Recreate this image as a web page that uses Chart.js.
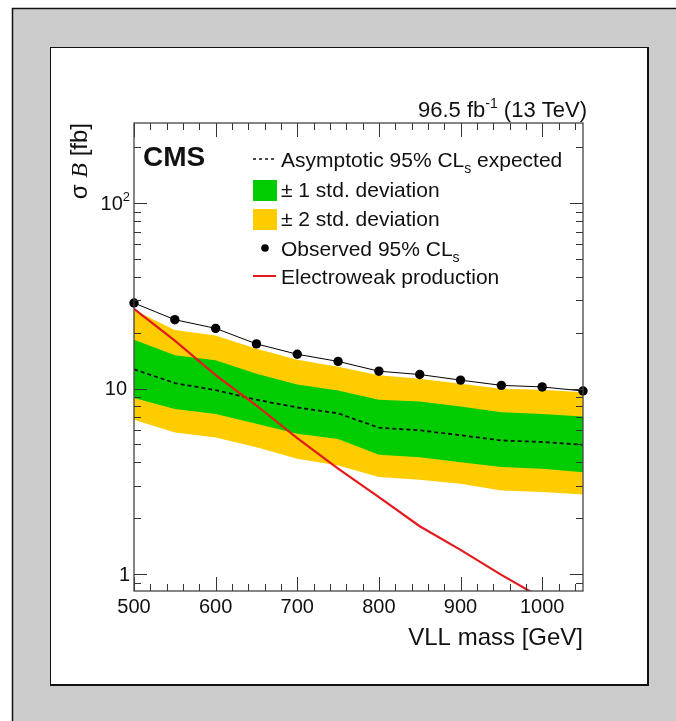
<!DOCTYPE html>
<html>
<head>
<meta charset="utf-8">
<script src="https://cdn.jsdelivr.net/npm/chart.js@4.4.1/dist/chart.umd.min.js"></script>
<style>
    html, body { margin: 0; padding: 0; background: #fff; }
    canvas { display: block; }
</style>
</head>
<body>
<canvas id="limitChart" width="676" height="721"></canvas>
<script>
// ---- data ----

// VLL mass points [GeV]
const masses   = [500, 550, 600, 650, 700, 750, 800, 850, 900, 950, 1000, 1050];
// sigma*B limits [fb]
const observed = [28.9, 23.5, 21.1, 17.4, 15.3, 14.0, 12.4, 11.9, 11.1, 10.4, 10.2, 9.7];
const expected = [12.7, 10.7, 9.8, 8.7, 7.9, 7.35, 6.15, 5.95, 5.6, 5.25, 5.15, 4.97];
const plus1    = [18.3, 15.1, 14.2, 12.0, 10.5, 9.75, 8.7, 8.5, 8.0, 7.45, 7.3, 7.07];
const minus1   = [8.9, 7.75, 7.3, 6.45, 5.7, 5.35, 4.4, 4.26, 4.0, 3.77, 3.69, 3.54];
const plus2    = [26.5, 20.7, 19.3, 16.4, 14.3, 13.1, 11.8, 11.3, 10.6, 9.96, 9.84, 9.55];
const minus2   = [6.78, 5.8, 5.45, 4.82, 4.18, 3.85, 3.33, 3.22, 3.07, 2.82, 2.77, 2.68];
const ewk      = [26.9, 18.1, 11.8, 8.1, 5.4, 3.7, 2.6, 1.81, 1.35, 0.99, 0.74, 0.55];

// axis ticks
const xLabels = [500, 600, 700, 800, 900, 1000];
const yLabels = [1, 10, 100];
const yMinor  = [0.9, 2, 3, 4, 5, 6, 7, 8, 9, 20, 30, 40, 50, 60, 70, 80, 90, 200];

const SANS = '"Liberation Sans", Arial, sans-serif';
const SERIF = '"Liberation Serif", "Times New Roman", serif';
const GREEN = '#00cc00';
const YELLOW = '#ffcc00';
const RED = '#e31a1c';

function pts(values) {
    return masses.map((m, i) => ({ x: m, y: values[i] }));
}

// draw a run of text pieces (font, offset) one after another
function richText(ctx, parts, x, y, align) {
    let total = 0;
    parts.forEach(p => { ctx.font = p.font; total += ctx.measureText(p.t).width; });
    let cx = align === 'right' ? x - total : (align === 'center' ? x - total / 2 : x);
    ctx.textAlign = 'left';
    parts.forEach(p => {
        ctx.font = p.font;
        ctx.fillText(p.t, cx, y + (p.dy || 0));
        cx += ctx.measureText(p.t).width;
    });
}

function seg(ctx, x1, y1, x2, y2) {
    ctx.beginPath();
    ctx.moveTo(x1, y1);
    ctx.lineTo(x2, y2);
    ctx.stroke();
}

// grey canvas + white pad, like the exported figure
const paperPlugin = {
    id: 'paper',
    beforeDraw(chart) {
        const ctx = chart.ctx;
        ctx.save();
        ctx.fillStyle = '#ffffff';
        ctx.fillRect(0, 0, chart.width, chart.height);
        ctx.fillStyle = '#cccccc';
        ctx.fillRect(12, 8, chart.width, chart.height);
        ctx.strokeStyle = '#111';
        ctx.lineWidth = 1.5;
        ctx.strokeRect(12.5, 8.5, chart.width + 20, chart.height + 20);
        ctx.fillStyle = '#ffffff';
        ctx.fillRect(50, 47, 598, 638);
        ctx.lineWidth = 1;
        ctx.strokeRect(50.5, 47.5, 597, 637);
        ctx.lineWidth = 2;
        seg(ctx, 648, 47, 648, 686);
        seg(ctx, 50, 685, 649, 685);
        ctx.restore();
    }
};

// ROOT style frame: inward ticks, labels, titles and legend
const framePlugin = {
    id: 'rootFrame',
    afterDatasetsDraw(chart) {
        const ctx = chart.ctx;
        const ca = chart.chartArea;
        const xs = chart.scales.x;
        const ys = chart.scales.y;
        ctx.save();

        // ticks on all four sides
        ctx.strokeStyle = '#333';
        ctx.lineWidth = 1;
        for (let v = 500; v <= 1050; v += 20) {
            const px = Math.round(xs.getPixelForValue(v)) + 0.5;
            const len = xLabels.includes(v) ? 14 : 7;
            seg(ctx, px, ca.bottom, px, ca.bottom - len);
            seg(ctx, px, ca.top, px, ca.top + len);
        }
        yLabels.concat(yMinor).forEach(v => {
            const py = Math.round(ys.getPixelForValue(v)) + 0.5;
            const len = yLabels.includes(v) ? 13 : 7;
            seg(ctx, ca.left, py, ca.left + len, py);
            seg(ctx, ca.right, py, ca.right - len, py);
        });

        // box
        ctx.strokeStyle = '#444';
        ctx.lineWidth = 1.3;
        ctx.strokeRect(ca.left, ca.top, ca.right - ca.left, ca.bottom - ca.top);

        // tick labels
        ctx.fillStyle = '#111';
        ctx.textBaseline = 'alphabetic';
        ctx.font = '20px ' + SANS;
        ctx.textAlign = 'center';
        xLabels.forEach(v => ctx.fillText(String(v), xs.getPixelForValue(v), ca.bottom + 22));
        ctx.textBaseline = 'middle';
        yLabels.forEach(v => {
            const py = ys.getPixelForValue(v);
            if (v === 100) {
                richText(ctx, [
                    { t: '10', font: '20px ' + SANS },
                    { t: '2', font: '13px ' + SANS, dy: -7 }
                ], ca.left - 4, py + 1, 'right');
            } else {
                richText(ctx, [{ t: String(v), font: '20px ' + SANS }], ca.left - (v === 10 ? 7 : 4), py + 1, 'right');
            }
        });

        // axis titles
        ctx.textBaseline = 'alphabetic';
        richText(ctx, [{ t: 'VLL mass [GeV]', font: '24px ' + SANS }], ca.right, ca.bottom + 54, 'right');
        ctx.save();
        ctx.translate(87, ca.top);
        ctx.rotate(-Math.PI / 2);
        richText(ctx, [
            { t: 'σ ', font: '24px ' + SANS },
            { t: 'B', font: 'italic 24px ' + SERIF },
            { t: ' [fb]', font: '24px ' + SANS }
        ], 0, 0, 'right');
        ctx.restore();

        // lumi + CMS
        richText(ctx, [
            { t: '96.5 fb', font: '22px ' + SANS },
            { t: '-1', font: '14px ' + SANS, dy: -9 },
            { t: ' (13 TeV)', font: '22px ' + SANS }
        ], ca.right + 4, ca.top - 6, 'right');
        richText(ctx, [{ t: 'CMS', font: 'bold 28px ' + SANS }], ca.left + 9, ca.top + 43, 'left');

        // legend
        const lx = 253, tx = 281;
        const font = '21px ' + SANS;
        ctx.strokeStyle = '#111';
        ctx.lineWidth = 1.5;
        ctx.setLineDash([3, 3]);
        seg(ctx, lx, 159, lx + 23, 159);
        ctx.setLineDash([]);
        ctx.fillStyle = GREEN;
        ctx.fillRect(lx, 180, 24, 21);
        ctx.fillStyle = YELLOW;
        ctx.fillRect(lx, 209, 24, 21);
        ctx.fillStyle = '#000';
        ctx.beginPath();
        ctx.arc(lx + 12, 248, 3.8, 0, Math.PI * 2);
        ctx.fill();
        ctx.strokeStyle = RED;
        ctx.lineWidth = 2;
        seg(ctx, lx, 276, lx + 23, 276);

        ctx.fillStyle = '#111';
        richText(ctx, [
            { t: 'Asymptotic 95% CL', font: font },
            { t: 's', font: '14px ' + SANS, dy: 6 },
            { t: ' expected', font: font }
        ], tx, 167, 'left');
        richText(ctx, [{ t: '± 1 std. deviation', font: font }], tx, 197, 'left');
        richText(ctx, [{ t: '± 2 std. deviation', font: font }], tx, 226, 'left');
        richText(ctx, [
            { t: 'Observed 95% CL', font: font },
            { t: 's', font: '14px ' + SANS, dy: 6 }
        ], tx, 256, 'left');
        richText(ctx, [{ t: 'Electroweak production', font: font }], tx, 284, 'left');

        ctx.restore();
    }
};

const ctx = document.getElementById('limitChart').getContext('2d');
new Chart(ctx, {
    type: 'line',
    data: {
        datasets: [
            {
                label: 'Observed 95% CLs',
                data: pts(observed),
                borderColor: '#000',
                borderWidth: 1,
                backgroundColor: '#000',
                pointRadius: 4.7,
                pointBorderWidth: 0,
                clip: false,
                order: 0
            },
            {
                label: 'Electroweak production',
                data: pts(ewk),
                borderColor: RED,
                borderWidth: 2.2,
                pointRadius: 0,
                order: 1
            },
            {
                label: 'Asymptotic 95% CLs expected',
                data: pts(expected),
                borderColor: '#111',
                borderWidth: 1.8,
                borderDash: [4, 3],
                pointRadius: 0,
                order: 2
            },
            {
                label: '+1 std',
                data: pts(plus1),
                borderWidth: 0,
                pointRadius: 0,
                backgroundColor: GREEN,
                fill: '+1',
                order: 3
            },
            {
                label: '-1 std',
                data: pts(minus1),
                borderWidth: 0,
                pointRadius: 0,
                order: 4
            },
            {
                label: '+2 std',
                data: pts(plus2),
                borderWidth: 0,
                pointRadius: 0,
                backgroundColor: YELLOW,
                fill: '+1',
                order: 5
            },
            {
                label: '-2 std',
                data: pts(minus2),
                borderWidth: 0,
                pointRadius: 0,
                order: 6
            }
        ]
    },
    options: {
        responsive: false,
        animation: false,
        layout: { padding: { left: 134, right: 93, top: 123, bottom: 130 } },
        elements: { line: { tension: 0 } },
        plugins: {
            legend: { display: false },
            tooltip: { enabled: false },
            filler: { propagate: false }
        },
        scales: {
            x: { type: 'linear', min: 500, max: 1050, display: false },
            y: { type: 'logarithmic', min: 0.81, max: 270, display: false }
        }
    },
    plugins: [paperPlugin, framePlugin]
});
</script>
</body>
</html>
